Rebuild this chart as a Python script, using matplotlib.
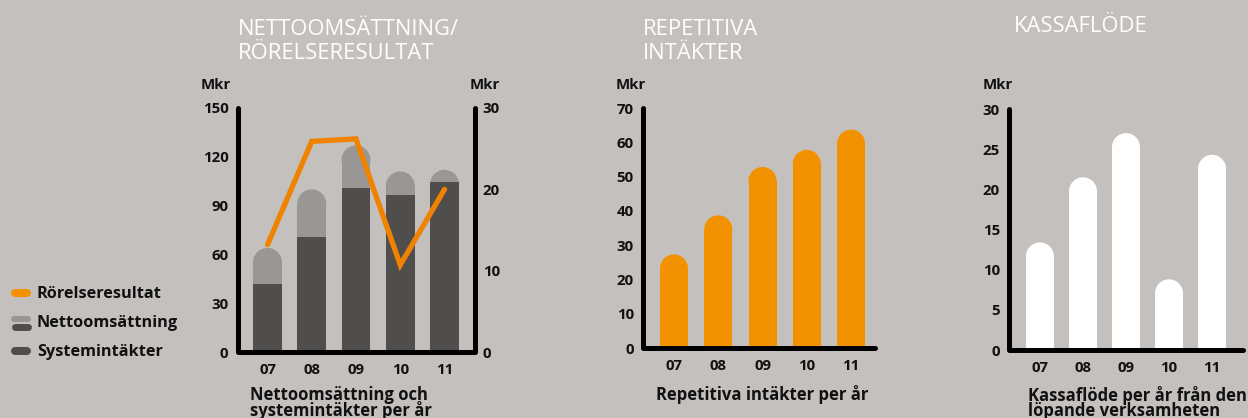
"""Nyckeltal 2007-2011: nettoomsättning/rörelseresultat, repetitiva intäkter, kassaflöde."""

import matplotlib.pyplot as plt
from matplotlib.patches import Ellipse
from matplotlib.lines import Line2D

W, H = 1248, 418

years = ["07", "08", "09", "10", "11"]
nettoomsattning = [64, 100, 127, 111, 112]
systemintakter = [42, 71, 101, 96.5, 104.5]
rorelseresultat = [13.2, 25.9, 26.2, 10.7, 20.0]
repetitiva = [27.3, 38.7, 52.8, 57.8, 63.7]
kassaflode = [13.4, 21.5, 27.0, 8.8, 24.3]

legend_labels = ["Rörelseresultat", "Nettoomsättning", "Systemintäkter"]

BG = "#c4c0be"
DARK = "#504e4c"
LIGHT = "#999796"
ORANGE = "#f39200"
LINE_ORANGE = "#ef8200"
INK = "#111111"

plt.rcParams["font.family"] = ["Open Sans", "DejaVu Sans"]
plt.rcParams["font.weight"] = "bold"

fig = plt.figure(figsize=(W / 100, H / 100), dpi=100, facecolor=BG)


def fx(x):
    return x / W


def fy(y):
    return 1 - y / H


def add_panel(x0, x1, y_top, y_bottom, xlim, ylim, yticks):
    ax = fig.add_axes([fx(x0), fy(y_bottom), (x1 - x0) / W, (y_bottom - y_top) / H])
    ax.set_xlim(xlim)
    ax.set_ylim(ylim)
    ax.patch.set_visible(False)
    for s in ax.spines.values():
        s.set_visible(False)
    ax.set_xticks(range(len(years)), years)
    ax.set_yticks(yticks)
    ax.tick_params(length=0, labelsize=10.8, labelcolor=INK)
    ax.tick_params(axis="y", pad=6.6)
    ax.tick_params(axis="x", pad=8)
    return ax


def frame(ax, right=False):
    xl, xr = ax.get_xlim()
    yb, yt = ax.get_ylim()
    xs = [xl, xl, xr] + ([xr] if right else [])
    ys = [yt, yb, yb] + ([yt] if right else [])
    ax.plot(xs, ys, color="black", lw=3.6, solid_capstyle="round",
            solid_joinstyle="round", clip_on=False, zorder=5)


def rounded_bars(ax, tops, width, color, zorder=2):
    # höjden på den runda toppen i dataenheter, från axelns egen skala
    (x0, y0), (x1, y1) = ax.transData.transform([(0, 0), (width, 1)])
    ry = (x1 - x0) / 2 / (y1 - y0)
    xs = range(len(tops))
    ax.bar(xs, [t - ry for t in tops], width=width, color=color, lw=0, zorder=zorder)
    for x, t in zip(xs, tops):
        ax.add_patch(Ellipse((x, t - ry), width, 2 * ry, color=color, lw=0, zorder=zorder))


# va="baseline" på flerradig text gäller sista raden
def title(x, text):
    n = text.count("\n")
    fig.text(fx(x), fy(32 + 27 * n), text, color="white", fontsize=15.8,
             fontweight="normal", va="baseline", ha="left", linespacing=1.17)


def caption(x, text, ha="left"):
    n = text.count("\n")
    fig.text(fx(x), fy(399.5 + 16.5 * n), text, color=INK, fontsize=12,
             va="baseline", ha=ha, linespacing=0.79)


def mkr(x, ha):
    fig.text(fx(x), fy(89), "Mkr", color=INK, fontsize=10.8, va="baseline", ha=ha)


# Nettoomsättning / rörelseresultat
ax1 = add_panel(237.5, 475, 108, 352, (-0.678, 4.689), (0, 150), range(0, 151, 30))
rounded_bars(ax1, nettoomsattning, 0.655, LIGHT)
ax1.bar(range(len(years)), systemintakter, width=0.655, color=DARK, lw=0, zorder=3)
frame(ax1, right=True)
ax1b = ax1.twinx()
ax1b.set_ylim(0, 30)
ax1b.patch.set_visible(False)
for s in ax1b.spines.values():
    s.set_visible(False)
ax1b.set_yticks(range(0, 31, 10))
ax1b.tick_params(length=0, labelsize=10.8, labelcolor=INK, pad=5.6)
ax1b.plot(range(len(years)), rorelseresultat, color=LINE_ORANGE, lw=3.8,
          solid_capstyle="round", solid_joinstyle="miter")
title(237.7, "NETTOOMSÄTTNING/\nRÖRELSERESULTAT")
mkr(231, "right")
mkr(470, "left")
caption(250, "Nettoomsättning och\nsystemintäkter per år")

# Repetitiva intäkter
ax2 = add_panel(643, 875, 108, 348, (-0.70, 4.54), (0, 70), range(0, 71, 10))
rounded_bars(ax2, repetitiva, 0.633, ORANGE)
frame(ax2)
title(643, "REPETITIVA\nINTÄKTER")
mkr(616, "left")
caption(762, "Repetitiva intäkter per år", ha="center")

# Kassaflöde
ax3 = add_panel(1009, 1243, 109, 350, (-0.72, 4.72), (0, 30), range(0, 31, 5))
rounded_bars(ax3, kassaflode, 0.65, "white")
frame(ax3)
title(1014, "KASSAFLÖDE")
mkr(983, "left")
caption(1028, "Kassaflöde per år från den\nlöpande verksamheten")

# Förklaring
legend_marks = [
    [(293.3, 8, ORANGE)],
    [(318.7, 6, LIGHT), (326.5, 7, DARK)],
    [(351, 8, DARK)],
]
for label, marks, y in zip(legend_labels, legend_marks, [294, 323.3, 351.7]):
    for my, lw_px, color in marks:
        fig.add_artist(Line2D([fx(11 + lw_px / 2), fx(31 - lw_px / 2)], [fy(my), fy(my)],
                              color=color, lw=lw_px * 0.72, solid_capstyle="round"))
    fig.text(fx(37), fy(y), label, color=INK, fontsize=11.7, va="center", ha="left")

fig.savefig("out.png", dpi=100, facecolor=BG)
